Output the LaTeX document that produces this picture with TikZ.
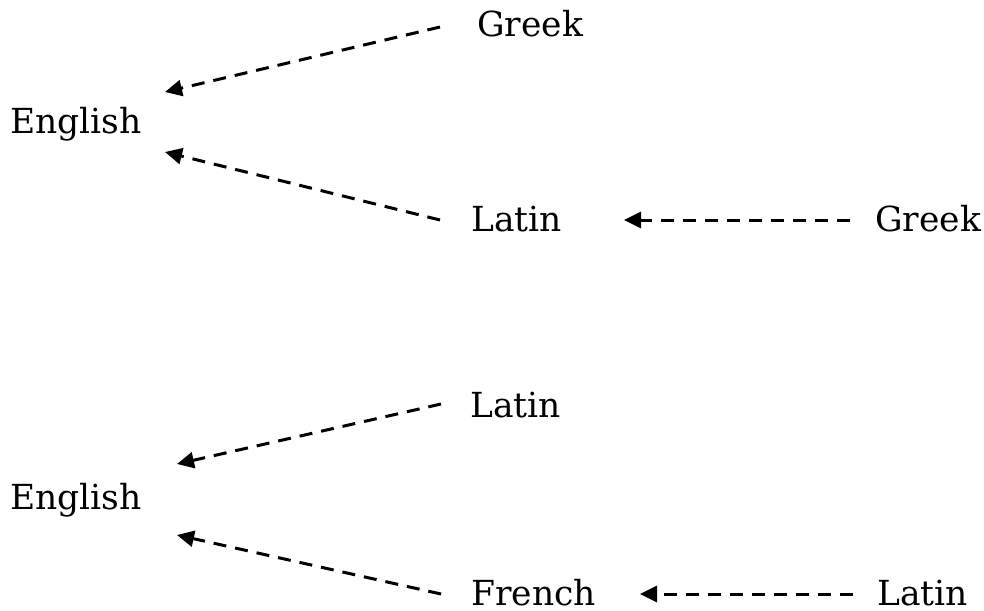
\documentclass[tikz,border=0pt]{standalone}
\usepackage{fontspec}
\setmainfont{DejaVu Serif}
\usetikzlibrary{arrows.meta}
\begin{document}
\begin{tikzpicture}[x=1pt,y=-1pt,
  lang/.style={anchor=base west,inner sep=0pt,font=\fontsize{34.5}{40}\selectfont},
  derive/.style={line width=3pt,dash pattern=on 13pt off 9pt,-{Triangle[length=17pt,width=16pt]}}]
\useasboundingbox (0,0) rectangle (984,610);
\node[lang] (en1) at (10,133) {English};
\node[lang] (gr1) at (477,37) {Greek};
\node[lang] (la1) at (471,231) {Latin};
\node[lang] (gr2) at (875,231) {Greek};
\node[lang] (la2) at (470,417) {Latin};
\node[lang] (en2) at (10,509) {English};
\node[lang] (fr) at (471,605) {French};
\node[lang] (la3) at (877,605) {Latin};
\coordinate (a1s) at (440,27);  \coordinate (a1e) at (165,92);
\coordinate (a2s) at (440,220); \coordinate (a2e) at (165,152);
\coordinate (a3s) at (850,220); \coordinate (a3e) at (624,220);
\coordinate (a4s) at (441,404); \coordinate (a4e) at (177,464);
\coordinate (a5s) at (441,594); \coordinate (a5e) at (177,535);
\coordinate (a6s) at (853,594); \coordinate (a6e) at (640,594);
\draw[derive] (a1s) -- (a1e);
\draw[derive] (a2s) -- (a2e);
\draw[derive] (a3s) -- (a3e);
\draw[derive] (a4s) -- (a4e);
\draw[derive] (a5s) -- (a5e);
\draw[derive] (a6s) -- (a6e);
\end{tikzpicture}
\end{document}
